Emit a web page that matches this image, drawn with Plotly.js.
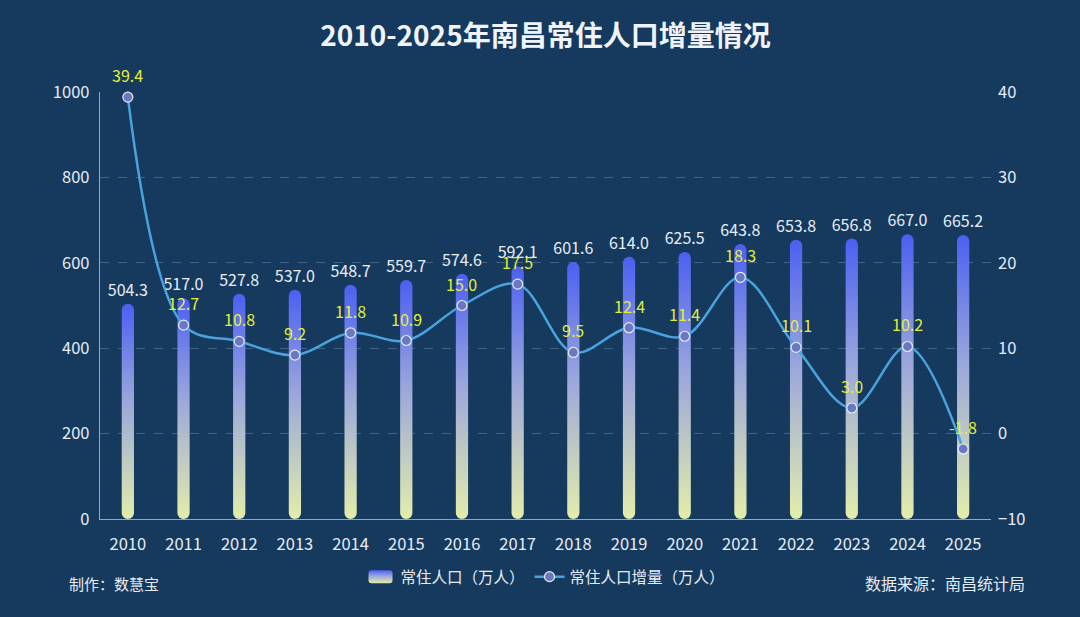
<!DOCTYPE html>
<html>
<head>
<meta charset="utf-8">
<script src="https://cdn.plot.ly/plotly-3.0.1.min.js"></script>
<style>
html,body{margin:0;padding:0;background:#163a5e;}
#chart{width:1080px;height:617px;}
</style>
</head>
<body>
<div id="chart"></div>
<script>
const years = ["2010","2011","2012","2013","2014","2015","2016","2017","2018","2019","2020","2021","2022","2023","2024","2025"];
const population = [504.3,517.0,527.8,537.0,548.7,559.7,574.6,592.1,601.6,614.0,625.5,643.8,653.8,656.8,667.0,665.2];
const increment = [39.4,12.7,10.8,9.2,11.8,10.9,15.0,17.5,9.5,12.4,11.4,18.3,10.1,3.0,10.2,-1.8];
const seriesNames = ["常住人口（万人）","常住人口增量（万人）"];

const FONT = '"Noto Sans CJK SC", "Noto Sans", sans-serif';
const BG = '#163a5e';

const traces = [
  {
    type: 'bar',
    name: seriesNames[0],
    x: years,
    y: population,
    width: 0.22,
    marker: {color: '#8d9be6', line: {width: 0}},
    text: population.map(v => v.toFixed(1)),
    textposition: 'outside',
    constraintext: 'none',
    cliponaxis: false,
    textfont: {color: '#e8eef8', size: 16, family: FONT},
    hoverinfo: 'x+y'
  },
  {
    type: 'scatter',
    mode: 'lines+markers',
    name: seriesNames[1],
    x: years,
    y: increment,
    yaxis: 'y2',
    line: {shape: 'spline', smoothing: 1, color: '#4aa3de', width: 2.5},
    marker: {size: 10, color: '#6a78c2', line: {color: '#e6ecf8', width: 1.2}},
    cliponaxis: false
  }
];

const lineLabels = years.map((yr, i) => ({
  x: i, y: increment[i], xref: 'x', yref: 'y2',
  text: increment[i].toFixed(1), showarrow: false,
  xanchor: 'center', yanchor: 'middle', yshift: 22,
  font: {family: FONT, size: 16, color: '#e4ee3a'}
}));

const layout = {
  width: 1080,
  height: 617,
  paper_bgcolor: BG,
  plot_bgcolor: BG,
  font: {family: FONT, color: '#e6ecf6', size: 15},
  margin: {l: 100, r: 89, t: 92, b: 98, autoexpand: false},
  title: {
    text: '<b>2010-2025年南昌常住人口增量情况</b>',
    x: 0.505, xanchor: 'center', y: 0.942, yanchor: 'middle',
    font: {family: FONT, size: 28, color: '#f0f4fa'}
  },
  showlegend: true,
  legend: {
    orientation: 'h', x: 0.5, xanchor: 'center', y: -0.136, yanchor: 'middle',
    font: {family: FONT, size: 15.5, color: '#e6ecf6'},
    bgcolor: 'rgba(0,0,0,0)', traceorder: 'normal'
  },
  xaxis: {
    type: 'category',
    range: [-0.5, 15.5],
    showgrid: false,
    showline: true, linecolor: 'rgba(190,205,225,0.75)', linewidth: 1.2,
    ticks: '', ticklabelstandoff: 10,
    tickfont: {size: 16.5, color: '#e6ecf6'},
    fixedrange: true
  },
  yaxis: {
    range: [0, 1000], dtick: 200,
    showgrid: true, gridcolor: 'rgba(150,180,210,0.35)', griddash: 'dash', gridwidth: 1,
    zeroline: false,
    showline: true, linecolor: 'rgba(190,205,225,0.75)', linewidth: 1.2,
    ticks: '', ticklabelstandoff: 6,
    tickfont: {size: 16.5, color: '#e6ecf6'}
  },
  yaxis2: {
    overlaying: 'y', side: 'right',
    range: [-10, 40], dtick: 10,
    showgrid: false, zeroline: false, showline: false,
    ticks: '', ticklabelstandoff: 6,
    tickfont: {size: 16.5, color: '#e6ecf6'}
  },
  annotations: lineLabels.concat([
    {text: '制作：数慧宝', xref: 'paper', yref: 'paper', x: -0.037, xanchor: 'left', y: -0.15, yanchor: 'middle', showarrow: false, font: {family: FONT, size: 15, color: '#e6ecf6'}},
    {text: '数据来源：南昌统计局', xref: 'paper', yref: 'paper', x: 1.04, xanchor: 'right', y: -0.15, yanchor: 'middle', showarrow: false, font: {family: FONT, size: 16, color: '#e6ecf6'}}
  ])
};

Plotly.newPlot('chart', traces, layout, {displayModeBar: false, staticPlot: true}).then(function(gd){
  const NS = 'http://www.w3.org/2000/svg';
  const svg = gd.querySelector('svg.main-svg');
  let defs = svg.querySelector('defs');
  if (!defs) { defs = document.createElementNS(NS, 'defs'); svg.insertBefore(defs, svg.firstChild); }
  const grad = document.createElementNS(NS, 'linearGradient');
  grad.setAttribute('id', 'barGrad');
  grad.setAttribute('x1', '0'); grad.setAttribute('y1', '0');
  grad.setAttribute('x2', '0'); grad.setAttribute('y2', '1');
  [['0', '#4b5ff2'], ['0.45', '#9aa6dc'], ['1', '#e4edaa']].forEach(function(s){
    const st = document.createElementNS(NS, 'stop');
    st.setAttribute('offset', s[0]); st.setAttribute('stop-color', s[1]);
    grad.appendChild(st);
  });
  defs.appendChild(grad);
  function roundRect(x, y, w, h, r) {
    r = Math.min(r, w / 2, h / 2);
    return 'M' + (x + r) + ',' + y + 'H' + (x + w - r) +
      'A' + r + ',' + r + ' 0 0 1 ' + (x + w) + ',' + (y + r) +
      'V' + (y + h - r) +
      'A' + r + ',' + r + ' 0 0 1 ' + (x + w - r) + ',' + (y + h) +
      'H' + (x + r) +
      'A' + r + ',' + r + ' 0 0 1 ' + x + ',' + (y + h - r) +
      'V' + (y + r) +
      'A' + r + ',' + r + ' 0 0 1 ' + (x + r) + ',' + y + 'Z';
  }
  gd.querySelectorAll('.barlayer .point path').forEach(function(p){
    const b = p.getBBox();
    p.setAttribute('d', roundRect(b.x, b.y, b.width, b.height, b.width / 2));
    p.style.fill = 'url(#barGrad)';
  });
  const legTraces = gd.querySelectorAll('.legend .traces');
  if (legTraces.length) {
    legTraces[0].querySelectorAll('.legendpoints path').forEach(function(p){
      p.setAttribute('d', roundRect(-12, -6.5, 24, 13, 3));
      p.style.fill = 'url(#barGrad)';
      p.style.stroke = 'none';
    });
  }
});
</script>
</body>
</html>
